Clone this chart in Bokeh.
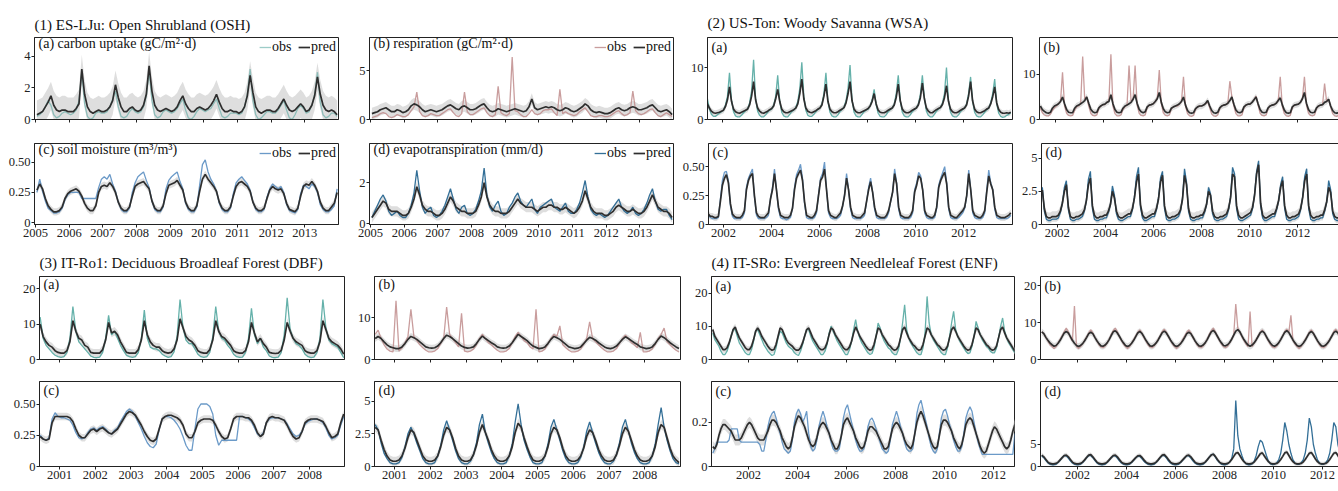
from bokeh.plotting import figure
from bokeh.layouts import column, row
from bokeh.models import (FixedTicker, Label, LinearAxis, Range1d, Legend, LegendItem,
                          CustomLabelingPolicy, Spacer)
from bokeh.embed import file_html
from bokeh.resources import INLINE
from bokeh.core.properties import value

FONT = "Liberation Serif"

# ---------------- data (monthly estimates) ----------------
# Group 1: ES-LJu, monthly from Jan 2005
g1_start = (2005, 1)
g1_gpp_pred = [0.3,0.4,0.5,0.8,1.1,1.5,0.9,0.6,0.5,0.6,0.6,0.5,
    0.5,0.5,0.7,1.0,3.2,1.6,0.8,0.5,0.4,0.5,0.6,0.5,
    0.5,0.6,0.8,1.2,2.2,1.4,0.8,0.5,0.5,0.7,0.8,0.6,
    0.5,0.6,0.9,1.6,3.4,1.8,0.9,0.6,0.5,0.6,0.7,0.6,
    0.5,0.6,0.8,1.2,1.5,1.0,0.7,0.5,0.5,0.7,0.8,0.7,
    0.6,0.7,0.9,1.2,1.6,1.1,0.7,0.5,0.5,0.6,0.5,0.5,
    0.4,0.5,0.8,1.5,2.8,1.7,0.8,0.5,0.4,0.5,0.6,0.6,
    0.5,0.5,0.7,1.0,1.3,0.9,0.6,0.5,0.6,0.8,1.0,0.8,
    0.5,0.6,0.9,1.5,2.7,1.6,0.9,0.6,0.5,0.6,0.5,0.3]
g1_gpp_obs = [0.2,0.3,0.5,0.8,1.2,0.9,0.3,0.1,0.2,0.4,0.5,0.4,
    0.3,0.4,0.6,1.2,3.0,1.0,0.2,0.0,0.1,0.4,0.5,0.4,
    0.4,0.5,0.8,1.3,1.8,0.8,0.2,0.1,0.2,0.5,0.7,0.5,
    0.4,0.5,0.8,1.5,3.1,1.2,0.3,0.1,0.2,0.5,0.6,0.5,
    0.4,0.5,0.7,1.0,1.3,0.6,0.1,0.0,0.2,0.5,0.7,0.6,
    0.5,0.6,0.7,1.0,1.3,0.7,0.2,0.1,0.2,0.4,0.4,0.4,
    0.3,0.4,0.8,1.6,3.2,1.2,0.3,0.0,0.1,0.3,0.5,0.5,
    0.4,0.4,0.6,0.9,1.2,0.6,0.1,0.0,0.3,0.7,0.9,0.7,
    0.4,0.5,0.9,1.6,3.0,1.1,0.3,0.1,0.2,0.4,0.4,0.2]
g1_reco_pred = [0.6,0.7,0.8,1.0,1.1,1.2,1.0,0.8,0.8,1.0,0.9,0.7,
    0.8,1.0,1.4,1.6,1.5,1.3,1.0,0.8,0.9,1.0,0.9,0.8,
    0.9,1.0,1.2,1.4,1.5,1.3,1.1,1.0,1.3,1.4,1.2,1.0,
    1.0,1.1,1.3,1.5,1.6,1.2,0.9,0.8,0.9,1.1,1.0,0.9,
    0.8,0.9,1.0,1.1,1.0,0.9,0.8,0.9,1.3,2.1,1.2,1.0,
    1.1,1.2,1.3,1.2,1.3,1.2,1.0,0.9,1.0,1.2,1.1,0.9,
    0.8,0.9,1.1,1.3,1.6,1.4,1.0,0.8,0.7,0.8,0.7,0.6,
    0.6,0.7,0.9,1.1,1.2,1.0,0.9,1.0,1.2,1.3,1.2,1.0,
    1.0,1.1,1.2,1.4,1.5,1.2,0.9,0.8,0.9,1.0,0.8,0.5]
g1_reco_obs = [0.2,0.3,0.4,0.6,0.7,0.6,0.3,0.2,0.3,0.5,0.4,0.3,
    0.3,0.5,0.9,1.3,2.8,0.8,0.4,0.3,0.4,0.6,0.5,0.4,
    0.4,0.6,0.8,1.0,1.1,0.7,0.4,0.3,0.6,2.8,0.8,0.5,
    0.5,0.7,0.9,1.1,1.2,0.7,0.4,0.3,0.5,3.4,0.7,0.5,
    0.4,0.6,6.4,0.9,0.8,0.5,0.3,0.3,0.6,1.0,0.6,0.5,
    0.6,0.9,1.0,1.0,1.1,0.7,0.4,3.1,0.6,0.8,0.6,0.5,
    0.4,0.5,0.8,1.0,1.2,0.8,0.4,0.3,0.3,0.4,0.4,0.3,
    0.3,0.4,0.6,0.8,0.9,0.6,0.4,0.5,0.7,2.9,0.9,0.6,
    0.5,0.6,0.8,1.0,1.1,0.7,0.4,0.3,0.5,0.7,0.5,0.3]
g1_sm_pred = [0.27,0.32,0.28,0.20,0.14,0.11,0.09,0.09,0.10,0.13,0.20,0.24,
    0.26,0.27,0.28,0.26,0.22,0.16,0.12,0.10,0.10,0.14,0.25,0.30,
    0.31,0.30,0.33,0.30,0.25,0.17,0.12,0.10,0.10,0.13,0.22,0.30,
    0.32,0.33,0.34,0.31,0.28,0.18,0.12,0.10,0.10,0.14,0.24,0.31,
    0.32,0.33,0.35,0.31,0.27,0.17,0.12,0.10,0.10,0.14,0.26,0.36,
    0.40,0.36,0.33,0.30,0.26,0.17,0.12,0.10,0.10,0.13,0.22,0.30,
    0.33,0.34,0.32,0.30,0.26,0.17,0.12,0.10,0.10,0.12,0.20,0.27,
    0.30,0.28,0.27,0.28,0.24,0.16,0.11,0.10,0.09,0.12,0.22,0.30,
    0.32,0.31,0.34,0.31,0.26,0.17,0.12,0.10,0.10,0.13,0.16,0.25]
g1_sm_obs = [0.25,0.36,0.26,0.18,0.12,0.10,0.08,0.08,0.09,0.12,0.19,0.23,
    0.25,0.25,0.25,0.25,0.20,0.20,0.20,0.20,0.20,0.20,0.29,0.36,
    0.38,0.36,0.40,0.32,0.26,0.17,0.11,0.09,0.09,0.12,0.25,0.33,
    0.38,0.40,0.42,0.35,0.29,0.18,0.11,0.09,0.09,0.13,0.28,0.35,
    0.38,0.40,0.42,0.34,0.28,0.16,0.11,0.09,0.09,0.13,0.31,0.48,
    0.52,0.42,0.36,0.32,0.26,0.16,0.11,0.09,0.09,0.12,0.24,0.33,
    0.36,0.38,0.35,0.32,0.27,0.17,0.11,0.09,0.09,0.11,0.21,0.28,
    0.32,0.30,0.28,0.30,0.25,0.15,0.10,0.09,0.08,0.11,0.24,0.31,
    0.30,0.28,0.32,0.30,0.25,0.15,0.11,0.09,0.09,0.11,0.14,0.28]
g1_et_pred = [0.3,0.5,0.7,0.9,1.1,1.0,0.7,0.6,0.6,0.6,0.5,0.4,
    0.4,0.5,0.8,1.2,1.8,1.4,0.9,0.7,0.6,0.6,0.5,0.4,
    0.4,0.5,0.7,1.0,1.3,1.1,0.8,0.7,0.6,0.6,0.5,0.5,
    0.5,0.6,0.9,1.3,2.0,1.3,0.9,0.7,0.6,0.6,0.5,0.5,
    0.5,0.6,0.8,1.0,1.2,1.0,0.9,0.8,0.8,0.8,0.7,0.6,
    0.7,0.8,0.8,0.9,0.9,0.8,0.8,0.7,0.7,0.8,0.7,0.6,
    0.5,0.6,0.8,1.1,1.6,1.2,0.8,0.6,0.5,0.5,0.5,0.4,
    0.4,0.5,0.6,0.8,0.9,0.8,0.7,0.6,0.6,0.7,0.6,0.5,
    0.5,0.6,0.8,1.1,1.4,1.1,0.8,0.7,0.6,0.6,0.5,0.3]
g1_et_obs = [0.3,0.6,0.9,1.2,1.4,1.1,0.6,0.4,0.5,0.6,0.4,0.3,
    0.3,0.5,0.9,1.5,2.6,1.6,0.8,0.5,0.7,0.8,0.4,0.3,
    0.4,0.6,0.9,1.3,1.7,1.2,0.7,0.5,0.8,0.9,0.5,0.4,
    0.5,0.7,1.1,1.6,2.7,1.4,0.8,0.6,0.9,1.1,0.6,0.4,
    0.5,0.8,1.0,1.3,1.5,1.1,0.9,0.8,1.0,1.2,0.7,0.5,
    0.8,0.9,1.0,1.1,1.2,0.8,0.7,0.6,0.8,1.0,0.6,0.5,
    0.5,0.7,1.0,1.5,2.1,1.3,0.7,0.5,0.4,0.5,0.4,0.3,
    0.4,0.6,0.8,1.0,1.2,0.8,0.6,0.5,0.6,0.8,0.5,0.4,
    0.5,0.7,1.0,1.4,1.7,1.1,0.7,0.6,0.7,0.7,0.4,0.2]

# Group 2: US-Ton, monthly from May 2001
g2_start = (2001, 5)
g2_gpp_pred = [3.0,2.2,1.6,1.3,1.2,1.3,1.4,1.6,
    1.8,2.5,3.8,6.3,3.5,2.0,1.5,1.3,1.2,1.4,1.6,1.8,
    2.0,2.8,4.5,7.3,3.8,2.2,1.6,1.3,1.2,1.4,1.6,1.9,
    2.1,2.6,4.0,5.8,3.5,2.0,1.5,1.3,1.3,1.5,1.7,1.9,
    2.2,3.0,5.0,7.8,4.0,2.2,1.6,1.4,1.3,1.5,1.7,2.0,
    2.2,2.8,4.5,6.8,3.5,2.0,1.5,1.3,1.3,1.5,1.8,2.0,
    2.3,3.2,5.0,7.3,3.6,2.0,1.5,1.3,1.3,1.5,1.7,1.9,
    2.1,2.6,3.5,5.0,3.0,1.8,1.4,1.3,1.3,1.5,1.8,2.0,
    2.2,2.8,4.3,6.8,3.6,2.0,1.5,1.3,1.3,1.5,1.8,2.0,
    2.2,2.8,4.2,7.0,4.0,2.2,1.6,1.3,1.3,1.6,1.9,2.1,
    2.3,2.9,4.2,6.5,3.5,2.0,1.5,1.3,1.3,1.5,1.8,2.0,
    2.2,2.8,4.5,7.3,3.6,2.0,1.5,1.3,1.3,1.5,1.7,2.0,
    2.2,3.0,4.4,6.3,3.2,1.9,1.4,1.2,1.2,1.3,1.2,1.4]
g2_gpp_obs = [4.0,2.0,1.0,0.6,0.6,0.9,1.2,1.5,
    1.8,2.8,4.5,9.0,3.8,1.5,0.7,0.5,0.5,0.8,1.3,1.7,
    2.0,3.2,5.5,11.5,4.0,1.6,0.8,0.5,0.5,0.9,1.4,1.8,
    2.0,2.8,4.5,8.5,3.5,1.4,0.7,0.5,0.5,1.0,1.5,1.8,
    2.3,3.5,6.0,11.0,4.5,1.8,0.8,0.6,0.6,1.0,1.5,1.9,
    2.2,3.0,5.0,9.0,3.5,1.4,0.7,0.5,0.5,0.9,1.5,1.9,
    2.4,3.6,6.0,10.5,3.8,1.4,0.7,0.5,0.5,1.0,1.5,1.8,
    2.0,2.6,3.8,5.8,2.8,1.2,0.6,0.5,0.5,0.9,1.5,1.9,
    2.2,3.0,5.0,8.5,3.6,1.4,0.7,0.5,0.5,0.9,1.5,1.9,
    2.2,3.0,4.8,8.5,4.2,1.6,0.8,0.5,0.5,1.0,1.6,2.0,
    2.3,3.2,5.0,10.0,3.6,1.4,0.7,0.5,0.5,0.9,1.5,1.9,
    2.2,3.0,5.0,8.2,3.5,1.4,0.7,0.5,0.5,0.9,1.4,1.8,
    2.2,3.2,5.0,7.8,3.0,1.2,0.6,0.4,0.5,0.8,1.0,1.3]
g2_reco_pred = [3.0,2.2,1.8,1.5,1.4,1.6,2.5,3.0,
    3.2,3.5,4.0,5.0,3.5,2.2,1.6,1.5,1.5,2.5,3.0,3.2,
    3.5,3.8,4.2,5.0,3.6,2.3,1.7,1.5,1.6,2.6,3.0,3.3,
    3.4,3.8,4.0,5.5,3.5,2.2,1.6,1.5,1.6,2.5,3.0,3.2,
    3.5,3.8,4.5,5.5,3.6,2.3,1.7,1.5,1.7,2.8,3.2,3.3,
    3.5,4.0,4.6,6.0,3.8,2.4,1.7,1.5,1.6,2.5,2.8,3.0,
    3.2,3.5,4.0,5.0,3.2,2.0,1.5,1.4,1.5,2.4,2.8,3.0,
    3.0,3.2,3.6,4.2,3.0,2.0,1.5,1.4,1.6,2.6,3.0,3.2,
    3.3,3.6,4.2,5.0,3.4,2.1,1.6,1.5,1.7,2.8,3.2,3.4,
    3.4,3.8,4.4,5.0,3.5,2.2,1.6,1.5,1.6,2.6,3.0,3.2,
    3.3,3.6,4.2,4.8,3.3,2.1,1.5,1.4,1.5,2.8,3.2,3.3,
    3.4,3.8,4.6,6.0,3.6,2.2,1.6,1.5,1.6,2.6,3.0,3.2,
    3.3,3.8,4.0,4.5,3.0,2.0,1.5,1.4,1.5,2.4,2.8,3.0]
g2_reco_obs = [2.5,1.5,1.0,0.8,0.8,1.2,2.0,2.6,
    3.0,3.5,4.0,10.5,3.0,1.4,0.9,0.8,0.9,2.0,2.8,3.0,
    3.5,14.0,4.5,5.0,3.0,1.4,0.9,0.8,1.0,2.4,3.0,3.3,
    3.3,3.8,4.2,14.5,3.0,1.3,0.8,0.8,1.0,2.2,2.8,3.2,
    12.0,4.0,4.5,12.0,3.2,1.4,0.9,0.8,1.0,2.6,3.2,3.3,
    3.5,4.0,4.8,11.0,3.5,1.5,0.9,0.8,1.0,2.4,2.8,3.0,
    3.0,3.4,4.0,9.5,3.0,1.3,0.8,0.7,0.9,2.2,2.8,3.0,
    3.0,3.2,3.5,4.0,2.6,1.2,0.8,0.7,1.0,2.4,3.0,3.2,
    3.3,3.6,8.5,5.0,3.0,1.3,0.8,0.8,1.0,2.6,3.2,3.4,
    3.4,3.8,4.4,5.2,3.2,1.4,0.9,0.8,1.0,2.4,3.0,3.2,
    3.3,3.6,4.2,9.5,3.0,1.3,0.8,0.7,0.9,2.6,3.2,3.3,
    3.4,3.8,4.6,9.5,3.2,1.4,0.9,0.8,1.0,2.4,3.0,3.2,
    3.3,8.0,4.0,4.5,2.8,1.3,0.8,0.7,0.9,2.2,2.8,3.0]
g2_sm_pred = [0.09,0.07,0.07,0.06,0.06,0.07,0.20,0.34,
    0.40,0.43,0.36,0.18,0.09,0.07,0.06,0.06,0.06,0.08,0.12,0.30,
    0.38,0.42,0.44,0.25,0.10,0.07,0.06,0.06,0.06,0.08,0.10,0.22,
    0.30,0.44,0.30,0.15,0.08,0.07,0.06,0.06,0.06,0.08,0.14,0.30,
    0.40,0.44,0.47,0.38,0.20,0.08,0.07,0.06,0.06,0.08,0.12,0.25,
    0.38,0.41,0.48,0.30,0.12,0.08,0.07,0.06,0.06,0.08,0.10,0.16,
    0.25,0.40,0.30,0.15,0.08,0.07,0.06,0.06,0.06,0.08,0.10,0.20,
    0.30,0.37,0.28,0.15,0.08,0.07,0.06,0.06,0.06,0.08,0.12,0.20,
    0.28,0.44,0.35,0.15,0.08,0.07,0.06,0.06,0.06,0.08,0.12,0.28,
    0.34,0.42,0.40,0.30,0.12,0.08,0.07,0.06,0.06,0.08,0.15,0.32,
    0.38,0.42,0.45,0.35,0.15,0.08,0.07,0.06,0.06,0.08,0.10,0.12,
    0.15,0.25,0.44,0.30,0.12,0.08,0.07,0.06,0.06,0.08,0.12,0.28,
    0.42,0.35,0.30,0.15,0.08,0.07,0.06,0.06,0.06,0.07,0.08,0.10]
g2_sm_obs = [0.08,0.06,0.05,0.05,0.05,0.06,0.22,0.38,
    0.45,0.46,0.38,0.16,0.07,0.05,0.05,0.05,0.05,0.06,0.10,0.32,
    0.40,0.44,0.48,0.24,0.08,0.05,0.05,0.05,0.05,0.06,0.08,0.22,
    0.32,0.48,0.30,0.13,0.06,0.05,0.05,0.04,0.05,0.06,0.14,0.32,
    0.43,0.47,0.52,0.40,0.18,0.06,0.05,0.05,0.05,0.06,0.10,0.26,
    0.40,0.44,0.54,0.30,0.10,0.06,0.05,0.05,0.05,0.06,0.08,0.15,
    0.26,0.44,0.30,0.13,0.06,0.05,0.05,0.05,0.05,0.06,0.08,0.20,
    0.32,0.40,0.28,0.13,0.06,0.05,0.05,0.05,0.05,0.06,0.10,0.20,
    0.28,0.48,0.36,0.13,0.06,0.05,0.05,0.05,0.05,0.06,0.10,0.30,
    0.36,0.45,0.42,0.30,0.10,0.06,0.05,0.05,0.05,0.06,0.14,0.34,
    0.40,0.45,0.50,0.36,0.13,0.06,0.05,0.05,0.05,0.06,0.08,0.10,
    0.14,0.25,0.47,0.30,0.10,0.06,0.05,0.05,0.05,0.06,0.10,0.30,
    0.47,0.36,0.30,0.13,0.06,0.05,0.05,0.05,0.05,0.05,0.06,0.08]
g2_et_pred = [2.6,1.2,0.6,0.5,0.5,0.6,0.6,0.6,
    0.7,1.0,1.6,2.5,3.0,1.3,0.6,0.5,0.5,0.6,0.6,0.7,
    0.8,1.1,1.8,3.0,3.5,1.4,0.7,0.5,0.5,0.6,0.6,0.7,
    0.7,1.0,1.5,2.5,2.0,1.0,0.6,0.5,0.5,0.6,0.7,0.8,
    0.8,1.2,2.0,3.2,3.8,1.5,0.7,0.5,0.5,0.6,0.7,0.8,
    0.8,1.2,1.9,3.2,3.7,1.4,0.7,0.5,0.5,0.6,0.6,0.7,
    0.8,1.1,1.9,3.7,3.0,1.2,0.6,0.5,0.5,0.6,0.6,0.7,
    0.7,1.0,1.5,2.5,2.2,1.0,0.6,0.5,0.5,0.6,0.6,0.7,
    0.8,1.2,2.0,3.8,3.6,1.4,0.7,0.5,0.5,0.6,0.7,0.8,
    0.9,1.3,2.2,3.8,4.5,1.6,0.7,0.5,0.5,0.6,0.7,0.8,
    0.8,1.2,1.8,2.8,3.3,1.4,0.7,0.5,0.5,0.6,0.6,0.7,
    0.8,1.2,2.0,3.3,3.8,1.4,0.7,0.5,0.5,0.6,0.6,0.7,
    0.7,1.1,1.7,2.8,2.4,1.0,0.6,0.5,0.5,0.6,0.6,0.7]
g2_et_obs = [2.8,1.0,0.4,0.3,0.3,0.4,0.4,0.4,
    0.5,0.9,1.6,2.8,3.3,1.1,0.4,0.3,0.3,0.4,0.4,0.5,
    0.6,1.0,1.8,3.4,4.0,1.2,0.4,0.3,0.3,0.4,0.4,0.5,
    0.5,0.9,1.5,2.9,2.2,0.8,0.4,0.3,0.3,0.4,0.5,0.6,
    0.6,1.1,2.1,3.6,4.3,1.3,0.5,0.3,0.3,0.4,0.5,0.6,
    0.6,1.1,2.0,3.5,4.0,1.2,0.4,0.3,0.3,0.4,0.4,0.5,
    0.6,1.0,2.0,4.2,3.2,1.0,0.4,0.3,0.3,0.4,0.4,0.5,
    0.5,0.9,1.5,2.8,2.3,0.8,0.4,0.3,0.3,0.4,0.4,0.5,
    0.6,1.1,2.1,4.3,3.8,1.2,0.4,0.3,0.3,0.4,0.5,0.6,
    0.7,1.2,2.3,4.0,4.8,1.4,0.5,0.3,0.3,0.4,0.5,0.6,
    0.6,1.1,1.8,3.0,3.6,1.2,0.4,0.3,0.3,0.4,0.4,0.5,
    0.6,1.1,2.1,3.6,4.2,1.2,0.4,0.3,0.3,0.4,0.4,0.5,
    0.5,1.0,1.7,3.3,2.6,0.8,0.4,0.3,0.3,0.4,0.4,0.5]

# Group 3: IT-Ro1, monthly from Jun 2000
g3_start = (2000, 6)
g3_gpp_pred = [10.0,6.5,5.0,4.0,3.5,2.5,2.0,
    1.8,1.8,2.5,5.0,11.0,8.0,6.0,5.5,4.0,3.5,2.0,1.8,
    1.8,1.8,2.8,5.5,10.5,7.5,8.0,7.0,5.0,3.5,2.0,1.8,
    1.8,1.8,2.8,5.5,11.0,7.0,5.0,4.0,3.5,3.5,2.5,2.0,
    1.8,2.0,3.0,5.5,11.5,9.0,6.5,5.5,5.0,4.0,2.5,2.0,
    1.8,1.8,2.8,5.5,11.0,8.0,6.5,6.0,5.0,4.0,2.5,2.0,
    1.8,1.8,2.5,5.0,10.5,7.5,5.0,6.0,4.5,3.5,2.0,1.8,
    1.7,1.8,2.6,5.5,10.5,8.0,6.0,5.0,4.5,4.0,2.5,2.0,
    1.8,1.8,2.5,5.0,11.0,8.5,6.0,5.0,4.5,4.0,3.0,1.5]
g3_gpp_obs = [12.0,6.0,4.0,3.0,2.0,1.2,0.8,
    0.6,0.8,2.0,6.0,15.0,8.0,5.0,4.0,3.0,2.0,1.0,0.6,
    0.5,0.7,2.0,6.0,12.5,7.0,8.0,6.0,4.0,2.5,1.2,0.8,
    0.6,0.8,2.0,6.0,14.0,6.0,3.5,3.0,3.0,2.5,1.5,1.0,
    0.6,0.8,2.2,6.5,17.0,9.0,5.5,4.5,4.5,3.0,1.5,0.8,
    0.6,0.8,2.0,6.5,15.0,8.0,6.0,5.5,4.0,3.0,1.5,0.8,
    0.6,0.7,2.0,6.0,14.5,7.0,4.5,6.0,3.5,2.5,1.0,0.6,
    0.5,0.7,2.0,7.0,17.5,8.5,6.0,4.5,4.0,3.0,1.5,0.8,
    0.5,0.7,2.0,6.0,17.0,9.0,5.5,4.5,4.0,3.5,2.0,0.5]
g3_reco_pred = [5.0,5.5,5.0,4.2,3.5,3.0,2.8,
    2.6,2.6,3.0,3.8,4.8,5.5,5.2,4.8,4.2,3.6,3.0,2.8,
    2.7,2.8,3.2,4.0,5.0,5.8,5.5,5.0,4.4,3.8,3.2,2.9,
    2.7,2.8,3.0,3.8,4.8,5.6,5.0,4.5,4.0,3.6,3.0,2.8,
    2.7,2.8,3.2,4.0,5.0,6.0,5.5,5.0,4.5,3.8,3.2,2.9,
    2.6,2.7,3.0,3.8,4.8,5.5,5.2,4.8,4.2,3.6,3.0,2.8,
    2.6,2.7,3.0,3.8,4.6,5.3,5.0,4.6,4.0,3.5,3.0,2.7,
    2.6,2.8,3.2,4.0,4.8,5.4,5.0,4.5,4.0,3.6,3.0,2.8,
    2.6,2.7,3.0,3.8,4.8,5.6,5.2,4.6,4.0,3.5,3.0,2.6]
g3_reco_obs = [6.0,7.0,5.0,3.5,2.5,2.0,1.8,
    14.0,2.0,2.8,4.0,5.5,12.0,5.5,4.5,3.5,2.8,2.2,1.8,
    1.8,2.0,2.6,3.8,5.0,12.5,6.0,5.0,4.0,3.0,11.0,2.0,
    1.8,2.0,2.5,3.5,5.0,6.0,5.0,4.0,3.5,2.8,2.2,1.8,
    1.8,2.0,2.6,4.0,5.5,6.5,5.5,4.5,4.0,3.0,2.5,12.0,
    1.8,2.0,2.5,3.8,5.0,6.0,5.5,8.0,3.5,2.8,2.2,1.8,
    1.8,2.0,2.5,3.6,5.0,9.0,5.0,4.2,3.5,2.8,2.2,1.8,
    1.8,2.0,2.6,3.8,5.0,5.8,5.0,4.0,3.5,2.8,6.5,1.8,
    1.8,2.0,2.5,3.6,5.0,6.0,7.5,4.2,3.5,2.8,2.2,1.8]
g3_sm_pred = [0.24,0.22,0.21,0.22,0.35,0.40,0.40,
    0.40,0.40,0.40,0.39,0.36,0.30,0.25,0.23,0.23,0.26,0.29,0.30,
    0.28,0.30,0.31,0.29,0.27,0.26,0.28,0.30,0.34,0.38,0.42,0.44,
    0.43,0.41,0.37,0.33,0.28,0.24,0.21,0.20,0.22,0.30,0.38,0.40,
    0.41,0.41,0.40,0.39,0.37,0.33,0.26,0.23,0.23,0.28,0.35,0.37,
    0.38,0.38,0.38,0.37,0.33,0.28,0.24,0.22,0.23,0.30,0.38,0.40,
    0.40,0.40,0.39,0.39,0.37,0.33,0.27,0.24,0.26,0.35,0.39,0.40,
    0.39,0.39,0.38,0.37,0.33,0.28,0.24,0.22,0.23,0.28,0.35,0.37,
    0.38,0.38,0.38,0.37,0.36,0.32,0.27,0.23,0.24,0.26,0.35,0.42]
g3_sm_obs = [0.25,0.22,0.21,0.23,0.38,0.43,0.40,
    0.39,0.39,0.38,0.37,0.33,0.27,0.23,0.22,0.23,0.27,0.30,0.31,
    0.29,0.31,0.32,0.30,0.27,0.26,0.29,0.31,0.36,0.40,0.44,0.46,
    0.44,0.40,0.35,0.30,0.24,0.19,0.16,0.15,0.18,0.30,0.38,0.40,
    0.40,0.39,0.37,0.34,0.30,0.24,0.17,0.13,0.13,0.30,0.46,0.50,
    0.50,0.50,0.48,0.42,0.25,0.17,0.21,0.21,0.21,0.21,0.21,0.21,
    0.40,0.40,0.39,0.38,0.36,0.31,0.26,0.24,0.27,0.35,0.38,0.39,
    0.39,0.39,0.38,0.37,0.34,0.30,0.26,0.24,0.25,0.28,0.34,0.36,
    0.37,0.38,0.38,0.37,0.35,0.31,0.25,0.22,0.23,0.25,0.33,0.40]
g3_et_pred = [3.0,2.8,2.0,1.3,0.8,0.5,0.4,
    0.4,0.5,0.8,1.4,2.2,2.8,2.6,2.0,1.4,0.8,0.5,0.4,
    0.4,0.5,0.8,1.5,2.4,3.0,2.8,2.2,1.4,0.8,0.5,0.4,
    0.4,0.5,0.9,1.6,2.6,3.2,2.6,2.0,1.3,0.8,0.5,0.4,
    0.4,0.5,0.8,1.5,2.6,3.3,3.0,2.2,1.5,0.9,0.5,0.4,
    0.4,0.5,0.8,1.5,2.5,3.0,2.8,2.2,1.4,0.8,0.5,0.4,
    0.4,0.5,0.8,1.4,2.3,2.8,2.6,2.0,1.3,0.8,0.5,0.4,
    0.4,0.5,0.9,1.6,2.5,3.0,2.7,2.0,1.3,0.8,0.5,0.4,
    0.4,0.5,0.8,1.5,2.6,3.2,3.0,2.2,1.4,0.8,0.5,0.3]
g3_et_obs = [3.2,2.8,1.8,1.0,0.6,0.3,0.2,
    0.2,0.3,0.7,1.5,2.5,3.0,2.5,1.8,1.2,0.6,0.3,0.2,
    0.2,0.3,0.8,1.6,2.8,3.5,2.8,2.0,1.2,0.6,0.3,0.2,
    0.2,0.4,0.9,1.8,3.2,4.0,2.6,1.8,1.1,0.6,0.3,0.2,
    0.2,0.3,0.8,1.7,3.4,4.8,3.2,2.0,1.3,0.7,0.3,0.2,
    0.2,0.3,0.8,1.7,3.0,3.6,2.8,2.0,1.2,0.6,0.3,0.2,
    0.2,0.3,0.7,1.5,2.7,3.4,2.6,1.8,1.1,0.6,0.3,0.2,
    0.2,0.4,0.9,1.8,3.0,3.6,2.7,1.8,1.1,0.6,0.3,0.2,
    0.2,0.3,0.8,1.7,3.2,4.5,3.0,2.0,1.2,0.6,0.3,0.2]

# Group 4: IT-SRo, monthly from Jul 2000
g4_start = (2000, 7)
g4_gpp_pred = [9.0,7.0,6.0,5.0,4.0,3.0,
    3.0,3.5,5.0,7.0,9.0,9.8,8.0,6.5,5.5,4.5,3.5,3.0,
    3.0,4.0,6.0,8.5,9.5,8.5,7.0,6.0,5.0,4.0,3.2,2.8,
    3.0,4.5,7.0,9.5,9.0,7.5,6.0,5.0,4.5,4.0,3.2,2.8,
    2.8,3.5,5.0,7.0,9.0,9.5,8.0,6.5,5.5,4.5,3.5,3.0,
    3.0,3.5,5.0,7.5,9.5,9.0,7.5,6.5,5.5,4.5,3.5,3.0,
    3.0,3.8,5.5,8.0,9.8,8.5,7.0,6.0,5.0,4.0,3.2,2.8,
    3.0,4.5,7.0,9.5,9.0,7.5,6.5,5.5,4.5,4.0,3.2,2.8,
    3.0,4.0,6.5,9.0,9.8,8.0,6.5,5.5,4.5,4.0,3.2,2.8,
    3.0,4.5,7.0,9.5,9.0,7.5,6.5,5.5,4.5,4.0,3.2,2.8,
    3.0,4.0,6.5,9.0,9.8,8.5,7.0,6.0,5.0,4.0,3.2,2.8,
    3.0,4.5,7.0,9.5,9.0,7.5,6.5,5.5,4.5,4.0,3.2,2.8,
    3.0,4.0,6.5,9.0,9.8,8.0,6.5,5.5,4.5,3.5,2.5]
g4_gpp_obs = [8.0,6.0,5.0,4.0,2.5,1.5,
    1.5,2.5,4.5,7.0,9.0,9.0,7.0,5.0,4.0,3.0,2.0,1.5,
    1.5,3.0,5.5,8.5,9.0,7.5,6.0,4.5,3.5,2.5,1.8,1.2,
    1.5,3.5,6.5,8.5,8.0,6.5,5.0,4.0,3.5,3.0,2.0,1.5,
    1.2,2.5,4.5,7.0,9.0,9.0,7.0,5.5,4.5,3.5,2.5,1.5,
    1.5,2.5,4.5,8.0,10.0,8.5,7.0,5.5,4.5,3.5,2.5,1.5,
    1.5,3.0,5.5,9.0,12.0,8.5,6.5,5.0,4.0,3.0,2.0,1.5,
    1.8,3.5,7.0,11.0,9.5,7.0,5.5,4.5,3.5,3.0,2.0,1.5,
    1.5,3.0,6.5,11.0,16.5,9.0,6.5,5.0,4.0,3.0,2.0,1.5,
    1.5,3.5,8.0,19.0,11.0,7.5,6.0,5.0,4.0,3.0,2.0,1.5,
    1.5,3.5,7.0,11.0,14.5,9.0,7.0,5.5,4.5,3.5,2.5,1.8,
    2.0,4.0,7.0,11.5,9.5,7.5,6.0,5.0,4.0,3.5,2.5,2.0,
    2.0,3.5,6.5,10.0,12.5,8.5,6.5,5.0,4.0,3.0,2.0]
g4_reco_pred = [7.5,7.0,6.0,5.2,4.5,4.0,
    3.6,3.8,4.4,5.2,6.2,7.2,7.6,7.2,6.2,5.2,4.4,3.8,
    3.5,3.8,4.3,5.1,6.0,7.0,7.4,7.0,6.0,5.1,4.3,3.7,
    3.6,3.9,4.5,5.4,6.5,7.5,7.8,7.2,6.3,5.3,4.5,3.8,
    3.5,3.8,4.4,5.2,6.2,7.2,7.6,7.1,6.2,5.2,4.4,3.7,
    3.6,3.9,4.5,5.3,6.3,7.3,7.7,7.2,6.3,5.3,4.5,3.8,
    3.5,3.8,4.3,5.1,6.0,7.0,7.4,7.0,6.1,5.1,4.3,3.7,
    3.6,3.9,4.5,5.4,6.5,7.5,7.9,7.3,6.3,5.3,4.5,3.8,
    3.7,4.0,4.6,5.5,6.6,7.7,8.1,7.5,6.4,5.4,4.6,3.9,
    3.6,3.9,4.5,5.3,6.3,7.3,7.7,7.2,6.2,5.2,4.4,3.8,
    3.6,3.9,4.5,5.4,6.4,7.4,7.8,7.3,6.3,5.3,4.5,3.8,
    3.5,3.8,4.4,5.2,6.2,7.2,7.6,7.1,6.1,5.1,4.3,3.7,
    3.6,3.9,4.5,5.3,6.3,7.3,7.7,7.2,6.2,5.2,4.4]
g4_reco_obs = [7.5,7.0,6.0,5.0,4.0,3.5,
    3.0,3.5,4.5,5.5,6.5,7.5,8.5,7.5,6.0,5.0,14.5,3.5,
    3.0,3.5,4.2,5.2,6.2,7.2,8.0,7.2,6.0,5.0,4.0,3.4,
    3.2,3.6,4.5,5.5,6.8,7.8,8.5,7.5,6.2,5.2,4.2,3.5,
    3.0,3.5,4.4,5.4,6.4,7.4,8.0,7.2,6.0,5.0,4.0,3.4,
    3.2,3.6,4.5,5.5,6.5,7.6,8.2,7.4,6.2,5.2,4.2,3.5,
    3.0,3.5,4.4,5.4,6.4,7.4,8.0,7.2,6.0,5.0,4.0,3.4,
    3.2,3.6,4.5,5.5,6.8,7.8,8.5,7.5,6.2,5.2,4.2,3.5,
    3.2,3.6,4.5,5.5,6.7,15.0,8.5,7.5,6.2,5.2,4.2,3.5,
    13.0,3.5,4.4,5.4,6.4,7.4,8.0,7.2,6.0,5.0,4.0,3.4,
    3.2,3.6,4.5,5.5,6.5,7.6,8.2,7.4,12.0,5.2,4.2,3.5,
    3.0,3.5,4.4,5.4,6.4,7.4,8.0,7.2,6.0,5.0,4.0,3.4,
    3.2,3.6,4.5,5.5,6.5,7.6,8.2,7.4,6.2,5.2,4.2]
g4_sm_pred = [0.09,0.08,0.10,0.14,0.17,0.19,
    0.19,0.18,0.17,0.16,0.14,0.12,0.12,0.12,0.13,0.15,0.17,0.19,
    0.20,0.19,0.17,0.15,0.13,0.12,0.12,0.12,0.14,0.16,0.19,0.21,
    0.21,0.20,0.18,0.16,0.13,0.11,0.09,0.08,0.09,0.13,0.18,0.21,
    0.23,0.22,0.20,0.18,0.15,0.12,0.10,0.09,0.10,0.13,0.17,0.19,
    0.20,0.19,0.17,0.15,0.12,0.10,0.08,0.08,0.10,0.14,0.19,0.21,
    0.22,0.20,0.18,0.16,0.13,0.11,0.09,0.08,0.09,0.12,0.16,0.18,
    0.18,0.17,0.16,0.14,0.12,0.10,0.08,0.08,0.09,0.13,0.17,0.19,
    0.20,0.19,0.17,0.15,0.12,0.10,0.09,0.08,0.10,0.15,0.20,0.23,
    0.25,0.23,0.20,0.17,0.14,0.11,0.09,0.08,0.09,0.14,0.19,0.21,
    0.21,0.20,0.18,0.16,0.13,0.11,0.09,0.08,0.10,0.14,0.19,0.21,
    0.22,0.21,0.18,0.15,0.12,0.09,0.07,0.06,0.07,0.10,0.13,0.16,
    0.18,0.17,0.15,0.13,0.11,0.09,0.08,0.09,0.12,0.16,0.19]
g4_sm_obs = [0.06,0.08,0.11,0.11,0.11,0.11,
    0.11,0.11,0.12,0.17,0.17,0.17,0.17,0.12,0.11,0.11,0.11,0.11,
    0.11,0.11,0.11,0.11,0.11,0.10,0.07,0.07,0.12,0.18,0.22,0.24,
    0.25,0.22,0.18,0.15,0.11,0.08,0.07,0.06,0.07,0.12,0.20,0.24,
    0.26,0.24,0.20,0.22,0.25,0.15,0.09,0.07,0.08,0.12,0.18,0.22,
    0.25,0.22,0.18,0.15,0.11,0.08,0.07,0.07,0.08,0.14,0.22,0.26,
    0.28,0.24,0.20,0.16,0.12,0.09,0.07,0.07,0.08,0.12,0.18,0.21,
    0.22,0.20,0.17,0.14,0.11,0.08,0.07,0.06,0.07,0.12,0.19,0.22,
    0.25,0.22,0.18,0.15,0.11,0.08,0.07,0.07,0.08,0.15,0.24,0.28,
    0.30,0.26,0.22,0.18,0.13,0.09,0.07,0.06,0.08,0.15,0.22,0.25,
    0.26,0.23,0.19,0.16,0.12,0.09,0.07,0.07,0.09,0.15,0.22,0.25,
    0.27,0.25,0.20,0.15,0.11,0.08,0.055,0.055,0.055,0.055,0.055,0.055,
    0.055,0.055,0.055,0.055,0.055,0.055,0.055,0.055,0.055,0.055,0.15]
g4_et_pred = [2.6,2.2,1.6,1.0,0.7,0.6,
    0.6,0.7,1.0,1.5,2.0,2.5,2.6,2.2,1.6,1.0,0.7,0.6,
    0.6,0.7,1.0,1.5,2.1,2.6,2.7,2.2,1.6,1.0,0.7,0.6,
    0.6,0.7,1.0,1.5,2.0,2.5,2.6,2.2,1.6,1.0,0.7,0.6,
    0.6,0.7,1.0,1.5,2.0,2.4,2.5,2.1,1.5,1.0,0.7,0.6,
    0.6,0.7,1.0,1.5,2.1,2.6,2.7,2.2,1.6,1.0,0.7,0.6,
    0.6,0.7,1.0,1.5,2.0,2.5,2.6,2.2,1.6,1.0,0.7,0.6,
    0.6,0.7,1.0,1.5,2.1,2.6,2.8,2.3,1.6,1.0,0.7,0.6,
    0.6,0.7,1.0,1.6,2.3,3.0,3.2,2.5,1.7,1.1,0.7,0.6,
    0.6,0.7,1.0,1.6,2.2,2.9,3.1,2.4,1.7,1.1,0.7,0.6,
    0.6,0.7,1.0,1.6,2.3,3.1,3.3,2.5,1.7,1.1,0.7,0.6,
    0.6,0.7,1.0,1.6,2.3,3.0,3.2,2.5,1.7,1.1,0.7,0.6,
    0.6,0.7,1.0,1.6,2.3,3.0,3.2,2.5,1.7,1.1,0.7]
g4_et_obs = [2.4,2.0,1.4,0.8,0.5,0.4,
    0.4,0.5,0.9,1.4,2.0,2.5,2.4,1.9,1.3,0.8,0.5,0.4,
    0.4,0.5,0.9,1.4,2.0,2.5,2.5,2.0,1.4,0.8,0.5,0.4,
    0.4,0.5,0.9,1.4,2.0,2.4,2.4,1.9,1.3,0.8,0.5,0.4,
    0.4,0.5,0.9,1.4,1.9,2.3,2.3,1.8,1.2,0.8,0.5,0.4,
    0.4,0.5,0.9,1.4,2.0,2.5,2.5,2.0,1.3,0.8,0.5,0.4,
    0.4,0.5,0.9,1.4,1.9,2.4,2.4,1.9,1.3,0.8,0.5,0.4,
    0.4,0.5,0.9,1.5,2.1,2.7,2.8,2.1,1.4,0.9,0.5,0.4,
    0.4,0.6,1.0,1.8,4.0,15.0,7.0,4.0,2.5,1.2,0.6,0.4,
    0.4,0.6,1.2,2.5,4.5,6.0,5.5,4.0,2.5,1.2,0.6,0.4,
    0.5,0.8,1.5,3.0,6.0,10.0,8.0,5.0,3.0,1.5,0.8,0.5,
    0.5,0.8,1.5,3.0,6.0,11.0,9.0,5.0,3.0,1.5,0.8,0.5,
    0.5,0.8,1.5,3.0,6.0,10.0,9.0,5.0,3.0,1.5,0.8]

# uncertainty half-widths of the grey band around pred
band_g1 = [0.9, 0.6, 0.03, 0.25]
band_g2 = [0.6, 0.7, 0.03, 0.4]
band_g3 = [1.2, 0.8, 0.03, 0.35]
band_g4 = [1.0, 0.9, 0.025, 0.5]

C_GPP, C_RECO, C_SM, C_ET = "#4aa39b", "#c08c8c", "#5b8fc2", "#1d5f8c"
C_PRED, C_BAND, C_EDGE = "#2e2e2e", "#dadada", "#222222"
NO_LABELS = CustomLabelingPolicy(code="for (const i of indices) { indices.unset(i) }\nreturn indices")


def months(start, n):
    y0, m0 = start
    return [y0 + (m0 - 1 + i + 0.5) / 12.0 for i in range(n)]


def style_axis(ax):
    ax.major_tick_out = 3
    ax.major_tick_in = 0
    ax.minor_tick_out = 0
    ax.minor_tick_in = 0
    ax.axis_line_color = C_EDGE
    ax.major_tick_line_color = C_EDGE
    ax.major_label_text_font = FONT
    ax.major_label_text_font_size = "12.5px"
    ax.major_label_text_color = "#222222"
    ax.major_label_standoff = 1


def panel(w, h, bl, br, bt, bb, xr, yr, xticks, yticks, show_xlab, cut,
          start, pred, obs, spread, color, obs_alpha, tag, title=None, legend=False):
    p = figure(width=w, height=h, x_range=Range1d(*xr), y_range=Range1d(*yr),
               output_backend="svg", toolbar_location=None, tools="",
               min_border_left=bl, min_border_right=br,
               min_border_top=bt, min_border_bottom=bb)
    p.xgrid.visible = False
    p.ygrid.visible = False
    p.background_fill_color = "white"
    p.border_fill_color = "white"
    if title is not None:
        p.title.text = title[0]
        p.title.text_font = FONT
        p.title.text_font_size = "15px"
        p.title.text_font_style = "normal"
        p.title.text_color = "#111111"
        p.title.align = "left"
        p.title.offset = 0
        p.title.standoff = title[1]
    main_x = p.below[0]
    main_y = p.left[0]
    style_axis(main_x)
    style_axis(main_y)
    main_x.ticker = FixedTicker(ticks=xticks)
    if not show_xlab:
        main_x.major_label_policy = NO_LABELS
        main_x.major_label_text_font_size = "0px"
        main_x.major_label_standoff = 0
    main_y.ticker = FixedTicker(ticks=yticks)
    main_y.major_label_overrides = {0: "0"}
    if cut:
        p.outline_line_color = None
        top = LinearAxis(ticker=FixedTicker(ticks=[]), major_tick_out=0, major_tick_in=0,
                         minor_tick_out=0, minor_tick_in=0, axis_line_color=C_EDGE,
                         major_label_text_font_size="0px", major_label_standoff=0)
        p.add_layout(top, "above")
    else:
        p.outline_line_color = C_EDGE
        p.outline_line_alpha = 1.0
        p.outline_line_width = 1

    t = months(start, len(pred))
    lo = [v - spread for v in pred]
    hi = [v + spread for v in pred]
    p.varea(x=t, y1=lo, y2=hi, fill_color=C_BAND, fill_alpha=0.9)
    to = months(start, len(obs))
    r_obs = p.line(to, obs, line_color=color, line_width=1.3, line_alpha=obs_alpha)
    r_pred = p.line(t, pred, line_color=C_PRED, line_width=1.7)

    fh = h - bt - bb
    p.add_layout(Label(x=4, y=fh - 10, x_units="screen", y_units="screen", text=tag,
                       text_font=FONT, text_font_size="14px", text_color="#111111",
                       text_baseline="middle", text_align="left"))
    if legend:
        lg = Legend(items=[LegendItem(label="obs", renderers=[r_obs]),
                           LegendItem(label="pred", renderers=[r_pred])],
                    location="top_right", orientation="horizontal",
                    label_text_font=FONT, label_text_font_size="14px",
                    label_text_color="#111111", glyph_width=12, glyph_height=10,
                    label_standoff=1, spacing=6, padding=1, margin=2,
                    background_fill_alpha=0, border_line_color=None,
                    label_height=12)
        p.add_layout(lg, "center")
    return p


def time_strip(w, bl, br, xr, xc, show):
    # thin strip under the bottom panels; only the top of the word "Time" is visible
    if not show:
        return Spacer(width=w, height=7)
    p = figure(width=w, height=7, x_range=Range1d(*xr), y_range=Range1d(0, 1),
               output_backend="svg", toolbar_location=None, tools="",
               min_border_left=bl, min_border_right=br, min_border_top=0, min_border_bottom=0)
    p.xaxis.visible = False
    p.yaxis.visible = False
    p.xgrid.visible = False
    p.ygrid.visible = False
    p.outline_line_color = None
    p.border_fill_color = "white"
    p.text(x=[xc], y=[1.0], text=["Time"], text_font=value(FONT),
           text_font_size="13px", text_color="#111111", text_align="center",
           text_baseline="top")
    return p


yrs1 = list(range(2005, 2014))
yrs2 = list(range(2002, 2013, 2))
yrs3 = list(range(2001, 2009))
yrs4 = list(range(2002, 2013, 2))
sm_t = [0, 0.25, 0.5]
sm_l = {0: "0", 0.25: "0.25", 0.5: "0.50"}

xr1 = (2004.97, 2014.0)
xr2 = (2001.38, 2014.03)
xr2b = (2001.34, 2013.70)
xr3 = (2000.44, 2008.98)
xr3b = (2000.44, 2009.0)
xr4 = (2000.49, 2012.86)
xr4b = (2000.49, 2012.65)

# ---- top band ----
f1a = panel(350, 129, 34, 12, 33, 10, xr1, (0, 5.2), yrs1, [0, 2, 4], False, False,
            g1_start, g1_gpp_pred, g1_gpp_obs, band_g1[0], C_GPP, 0.55,
            "(a) carbon uptake (gC/m²·d)", title=("(1) ES-LJu: Open Shrubland (OSH)", 10), legend=True)
f1b = panel(329, 129, 19, 6, 33, 10, xr1, (0, 8.4), yrs1, [0, 5], False, False,
            g1_start, g1_reco_pred, g1_reco_obs, band_g1[1], C_RECO, 0.85,
            "(b) respiration (gC/m²·d)", legend=True)
f2a = panel(339, 129, 28, 6, 37, 10, xr2, (0, 15.8), yrs2, [0, 10], False, False,
            g2_start, g2_gpp_pred, g2_gpp_obs, band_g2[0], C_GPP, 0.85, "(a)",
            title=("(2) US-Ton: Woody Savanna (WSA)", 13))
f2b = panel(320, 129, 21, 0, 37, 10, xr2b, (0, 18.2), yrs2, [0, 10], False, True,
            g2_start, g2_reco_pred, g2_reco_obs, band_g2[1], C_RECO, 0.85, "(b)")

f1c = panel(350, 116, 34, 12, 10, 21, xr1, (-0.015, 0.655), yrs1, sm_t, True, False,
            g1_start, g1_sm_pred, g1_sm_obs, band_g1[2], C_SM, 0.9,
            "(c) soil moisture (m³/m³)", legend=True)
f1c.left[0].major_label_overrides = sm_l
f1d = panel(329, 116, 19, 6, 10, 21, xr1, (-0.04, 3.9), yrs1, [0, 2], True, False,
            g1_start, g1_et_pred, g1_et_obs, band_g1[3], C_ET, 0.9,
            "(d) evapotranspiration (mm/d)", legend=True)
f2c = panel(339, 116, 28, 6, 14, 20, xr2, (0, 0.70), yrs2, sm_t, True, False,
            g2_start, g2_sm_pred, g2_sm_obs, band_g2[2], C_SM, 0.9, "(c)")
f2c.left[0].major_label_overrides = sm_l
f2d = panel(320, 116, 21, 0, 14, 20, xr2b, (0, 6.1), yrs2, [0, 2.5, 5], True, True,
            g2_start, g2_et_pred, g2_et_obs, band_g2[3], C_ET, 0.9, "(d)")

# ---- bottom band ----
f3a = panel(349, 124, 39, 5, 29, 10, xr3, (0, 23.5), yrs3, [0, 10, 20], False, False,
            g3_start, g3_gpp_pred, g3_gpp_obs, band_g3[0], C_GPP, 0.85, "(a)",
            title=("(3) IT-Ro1: Deciduous Broadleaf Forest (DBF)", 12))
f3b = panel(339, 124, 25, 8, 29, 10, xr3b, (0, 19.8), yrs3, [0, 10], False, False,
            g3_start, g3_reco_pred, g3_reco_obs, band_g3[1], C_RECO, 0.85, "(b)")
f4a = panel(332, 124, 23, 6, 31, 10, xr4, (0, 25), yrs4, [0, 10, 20], False, False,
            g4_start, g4_gpp_pred, g4_gpp_obs, band_g4[0], C_GPP, 0.85, "(a)",
            title=("(4) IT-SRo: Evergreen Needleleaf Forest (ENF)", 12))
f4b = panel(318, 124, 20, 0, 31, 10, xr4b, (0, 22.5), yrs4, [0, 10, 20], False, True,
            g4_start, g4_reco_pred, g4_reco_obs, band_g4[1], C_RECO, 0.85, "(b)")

f3c = panel(349, 115, 39, 5, 11, 18, xr3, (0, 0.68), yrs3, sm_t, True, False,
            g3_start, g3_sm_pred, g3_sm_obs, band_g3[2], C_SM, 0.9, "(c)")
f3c.left[0].major_label_overrides = sm_l
f3d = panel(339, 115, 25, 8, 11, 18, xr3b, (0, 6.5), yrs3, [0, 2.5, 5], True, False,
            g3_start, g3_et_pred, g3_et_obs, band_g3[3], C_ET, 0.9, "(d)")
f4c = panel(332, 115, 23, 6, 12, 18, xr4, (0, 0.385), yrs4, [0, 0.2], True, False,
            g4_start, g4_sm_pred, g4_sm_obs, band_g4[2], C_SM, 0.9, "(c)")
f4d = panel(318, 115, 20, 0, 12, 18, xr4b, (0, 19.3), yrs4, [0, 5], True, True,
            g4_start, g4_et_pred, g4_et_obs, band_g4[3], C_ET, 0.9, "(d)")

s3c = time_strip(349, 39, 5, xr3, (xr3[0] + xr3[1]) / 2.0, True)
s3d = time_strip(339, 25, 8, xr3b, 0, False)
s4c = time_strip(332, 23, 6, xr4, (xr4[0] + xr4[1]) / 2.0, True)
s4d = time_strip(318, 20, 0, xr4b, (xr4[0] + xr4[1]) / 2.0, True)

layout = column(row(f1a, f1b, f2a, f2b), row(f1c, f1d, f2c, f2d),
                row(f3a, f3b, f4a, f4b), row(f3c, f3d, f4c, f4d),
                row(s3c, s3d, s4c, s4d))

open("out.html", "w").write(file_html(layout, INLINE))
